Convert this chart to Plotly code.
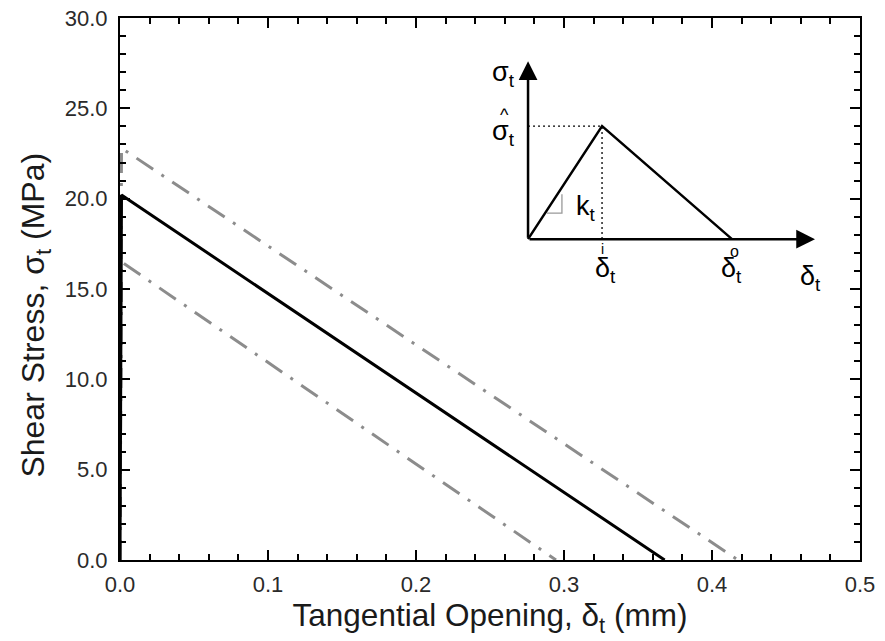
import plotly.graph_objects as go

# Bilinear shear traction-separation curves (opening in mm, stress in MPa)
mean_open = [0.0, 0.001, 0.368]
mean_stress = [0.0, 20.2, 0.0]
upper_open = [0.0, 0.001, 0.4176]
upper_stress = [0.0, 22.8, 0.0]
lower_open = [0.0, 0.001, 0.2946]
lower_stress = [0.0, 16.5, 0.0]

x_ticks = [0.0, 0.1, 0.2, 0.3, 0.4, 0.5]
y_ticks = [0.0, 5.0, 10.0, 15.0, 20.0, 25.0, 30.0]

# Schematic inset: origin, peak and end of the bilinear law, drawn in axis units
sk_origin = (0.2757, 17.76)
sk_peak = (0.3257, 24.02)
sk_end = (0.4135, 17.76)
sk_xtip = 0.4696
sk_ytip = 27.6

FONT = "Liberation Sans, Arial, sans-serif"
GRAY = "#8c8c8c"
DASHDOT = "20px,10px,3px,10px"

fig = go.Figure()
for xs, ys in [(upper_open, upper_stress), (lower_open, lower_stress)]:
    fig.add_trace(go.Scatter(x=xs, y=ys, mode="lines",
                             line=dict(color=GRAY, width=3, dash=DASHDOT),
                             showlegend=False, hoverinfo="skip"))
fig.add_trace(go.Scatter(x=mean_open, y=mean_stress, mode="lines",
                         line=dict(color="black", width=3),
                         showlegend=False, hoverinfo="skip"))

# inset curve
fig.add_trace(go.Scatter(x=[sk_origin[0], sk_peak[0], sk_end[0]],
                         y=[sk_origin[1], sk_peak[1], sk_end[1]],
                         mode="lines", line=dict(color="black", width=2.5),
                         showlegend=False, hoverinfo="skip"))
# dotted guides to the peak
fig.add_trace(go.Scatter(x=[sk_origin[0], sk_peak[0], sk_peak[0]],
                         y=[sk_peak[1], sk_peak[1], sk_origin[1]],
                         mode="lines", line=dict(color="black", width=1.3, dash="2px,3px"),
                         showlegend=False, hoverinfo="skip"))
# stiffness marker
fig.add_trace(go.Scatter(x=[0.2885, 0.2986, 0.2986],
                         y=[19.2, 19.2, 20.25],
                         mode="lines", line=dict(color="#999999", width=1.3),
                         showlegend=False, hoverinfo="skip"))

# inset axes with arrowheads
for tip, tail in [((sk_origin[0], sk_ytip), sk_origin), ((sk_xtip, sk_origin[1]), sk_origin)]:
    fig.add_annotation(x=tip[0], y=tip[1], ax=tail[0], ay=tail[1],
                       xref="x", yref="y", axref="x", ayref="y",
                       showarrow=True, arrowhead=2, arrowsize=1.5,
                       arrowwidth=2.5, arrowcolor="black", text="")

lab = dict(xref="x", yref="y", showarrow=False,
           font=dict(family=FONT, size=27, color="black"))
small = dict(xref="x", yref="y", showarrow=False)
fig.add_annotation(x=0.2590, y=26.9, text="σ<sub>t</sub>", **lab)
fig.add_annotation(x=0.2590, y=23.62, text="σ<sub>t</sub>", **lab)
fig.add_annotation(x=0.2601, y=24.62, text="^", font=dict(family=FONT, size=18, color="black"), **small)
fig.add_annotation(x=0.3150, y=19.5, text="k<sub>t</sub>", **lab)
fig.add_annotation(x=0.3280, y=16.05, text="δ<sub>t</sub>", **lab)
fig.add_annotation(x=0.3262, y=17.2, text="i", font=dict(family=FONT, size=14, color="black"), **small)
fig.add_annotation(x=0.4135, y=16.05, text="δ<sub>t</sub>", **lab)
fig.add_annotation(x=0.4150, y=17.1, text="o", font=dict(family=FONT, size=16, color="black"), **small)
fig.add_annotation(x=0.4665, y=15.6, text="δ<sub>t</sub>", **lab)

# y-axis title
fig.add_annotation(x=-0.1135, y=0.451, xref="paper", yref="paper", showarrow=False,
                   textangle=-90, xanchor="center", yanchor="middle",
                   text="Shear Stress, σ<sub>t</sub> (MPa)",
                   font=dict(family=FONT, size=32, color="#1a1a1a"))

axis_common = dict(showline=True, linewidth=2, linecolor="black", mirror="allticks",
                   ticks="inside", ticklen=10, tickwidth=2, tickcolor="black",
                   showgrid=False, zeroline=False, tickformat=".1f",
                   tickfont=dict(family=FONT, size=22, color="#2a2a2a"))
fig.update_xaxes(range=[0, 0.5], tickvals=x_ticks, ticklabelstandoff=4,
                 minor=dict(dtick=0.02, ticks="inside", ticklen=6, tickwidth=1.5, tickcolor="black"),
                 title=dict(text="Tangential Opening, δ<sub>t</sub> (mm)",
                            font=dict(family=FONT, size=31.5, color="#1a1a1a"), standoff=5),
                 **axis_common)
fig.update_yaxes(range=[0, 30], tickvals=y_ticks, ticklabelstandoff=6,
                 minor=dict(dtick=1, ticks="inside", ticklen=6, tickwidth=1.5, tickcolor="black"),
                 **axis_common)
fig.update_layout(width=885, height=641, plot_bgcolor="white", paper_bgcolor="white",
                  margin=dict(l=120, r=25, t=18, b=81, autoexpand=False))
fig.write_html("out.html")
